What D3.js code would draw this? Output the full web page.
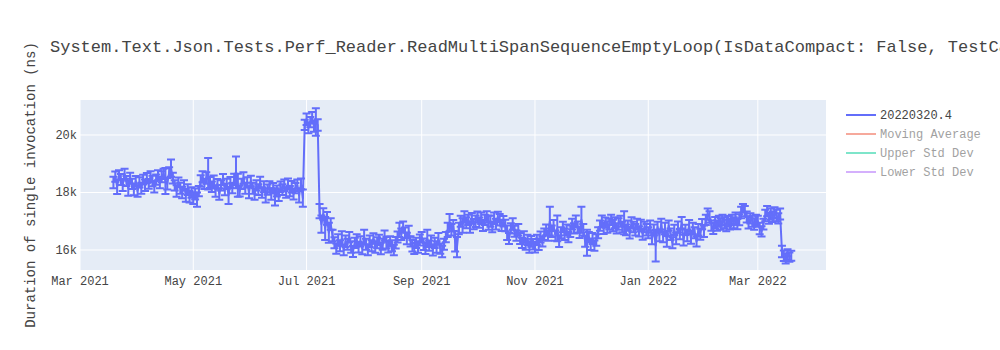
<!DOCTYPE html>
<html>
<head>
<meta charset="utf-8">
<script src="https://cdn.jsdelivr.net/npm/d3@7"></script>
<style>
  body { margin: 0; background: #fff; }
  svg text { font-family: "Liberation Mono", "Courier New", monospace; fill: #444; }
</style>
</head>
<body>
<svg id="chart" width="1000" height="350"></svg>
<script>
const dates = [
  "2021-03-19","2021-03-20","2021-03-21","2021-03-22","2021-03-23","2021-03-24","2021-03-25","2021-03-26","2021-03-27","2021-03-28","2021-03-29","2021-03-30","2021-03-31",
  "2021-04-01","2021-04-02","2021-04-03","2021-04-04","2021-04-05","2021-04-06","2021-04-07","2021-04-08","2021-04-09","2021-04-10",
  "2021-04-11","2021-04-12","2021-04-13","2021-04-14","2021-04-15","2021-04-16","2021-04-17","2021-04-18","2021-04-19","2021-04-20",
  "2021-04-21","2021-04-22","2021-04-23","2021-04-24","2021-04-25","2021-04-26","2021-04-27","2021-04-28","2021-04-29","2021-04-30",
  "2021-05-01","2021-05-02","2021-05-03","2021-05-04","2021-05-05","2021-05-06","2021-05-07","2021-05-08","2021-05-09","2021-05-10",
  "2021-05-11","2021-05-12","2021-05-13","2021-05-14","2021-05-15","2021-05-16","2021-05-17","2021-05-18","2021-05-19","2021-05-20",
  "2021-05-21","2021-05-22","2021-05-23","2021-05-24","2021-05-25","2021-05-26","2021-05-27","2021-05-28","2021-05-29","2021-05-30","2021-05-31",
  "2021-06-01","2021-06-02","2021-06-03","2021-06-04","2021-06-05","2021-06-06","2021-06-07","2021-06-08","2021-06-09","2021-06-10",
  "2021-06-11","2021-06-12","2021-06-13","2021-06-14","2021-06-15","2021-06-16","2021-06-17","2021-06-18","2021-06-19","2021-06-20",
  "2021-06-21","2021-06-22","2021-06-23","2021-06-24","2021-06-25","2021-06-26","2021-06-27","2021-06-28","2021-06-29",
  "2021-06-30","2021-07-01","2021-07-02","2021-07-03","2021-07-04","2021-07-05","2021-07-06","2021-07-07",
  "2021-07-08","2021-07-09","2021-07-10","2021-07-11","2021-07-12","2021-07-13","2021-07-14",
  "2021-07-15","2021-07-16","2021-07-17","2021-07-18","2021-07-19","2021-07-20","2021-07-21","2021-07-22","2021-07-23","2021-07-24","2021-07-25","2021-07-26","2021-07-27","2021-07-28","2021-07-29","2021-07-30","2021-07-31",
  "2021-08-01","2021-08-02","2021-08-03","2021-08-04","2021-08-05","2021-08-06","2021-08-07","2021-08-08","2021-08-09","2021-08-10","2021-08-11","2021-08-12","2021-08-13","2021-08-14","2021-08-15",
  "2021-08-16","2021-08-17","2021-08-18","2021-08-19","2021-08-20","2021-08-21","2021-08-22","2021-08-23","2021-08-24","2021-08-25","2021-08-26","2021-08-27","2021-08-28","2021-08-29","2021-08-30","2021-08-31",
  "2021-09-01","2021-09-02","2021-09-03","2021-09-04","2021-09-05","2021-09-06","2021-09-07","2021-09-08","2021-09-09","2021-09-10","2021-09-11","2021-09-12","2021-09-13","2021-09-14","2021-09-15",
  "2021-09-16","2021-09-17","2021-09-18","2021-09-19","2021-09-20","2021-09-21","2021-09-22","2021-09-23","2021-09-24","2021-09-25","2021-09-26","2021-09-27","2021-09-28","2021-09-29","2021-09-30",
  "2021-10-01","2021-10-02","2021-10-03","2021-10-04","2021-10-05","2021-10-06","2021-10-07","2021-10-08","2021-10-09","2021-10-10","2021-10-11","2021-10-12","2021-10-13","2021-10-14","2021-10-15",
  "2021-10-16","2021-10-17","2021-10-18","2021-10-19","2021-10-20","2021-10-21","2021-10-22","2021-10-23","2021-10-24","2021-10-25","2021-10-26","2021-10-27","2021-10-28","2021-10-29","2021-10-30","2021-10-31",
  "2021-11-01","2021-11-02","2021-11-03","2021-11-04","2021-11-05","2021-11-06","2021-11-07","2021-11-08","2021-11-09","2021-11-10","2021-11-11","2021-11-12","2021-11-13","2021-11-14","2021-11-15",
  "2021-11-16","2021-11-17","2021-11-18","2021-11-19","2021-11-20","2021-11-21","2021-11-22","2021-11-23","2021-11-24","2021-11-25","2021-11-26","2021-11-27","2021-11-28","2021-11-29","2021-11-30",
  "2021-12-01","2021-12-02","2021-12-03","2021-12-04","2021-12-05","2021-12-06","2021-12-07","2021-12-08","2021-12-09","2021-12-10","2021-12-11","2021-12-12","2021-12-13","2021-12-14","2021-12-15",
  "2021-12-16","2021-12-17","2021-12-18","2021-12-19","2021-12-20","2021-12-21","2021-12-22","2021-12-23","2021-12-24","2021-12-25","2021-12-26","2021-12-27","2021-12-28","2021-12-29","2021-12-30","2021-12-31",
  "2022-01-01","2022-01-02","2022-01-03","2022-01-04","2022-01-05","2022-01-06","2022-01-07","2022-01-08","2022-01-09","2022-01-10","2022-01-11","2022-01-12","2022-01-13","2022-01-14","2022-01-15",
  "2022-01-16","2022-01-17","2022-01-18","2022-01-19","2022-01-20","2022-01-21","2022-01-22","2022-01-23","2022-01-24","2022-01-25","2022-01-26","2022-01-27","2022-01-28","2022-01-29","2022-01-30","2022-01-31",
  "2022-02-01","2022-02-02","2022-02-03","2022-02-04","2022-02-05","2022-02-06","2022-02-07","2022-02-08","2022-02-09","2022-02-10","2022-02-11","2022-02-12","2022-02-13","2022-02-14",
  "2022-02-15","2022-02-16","2022-02-17","2022-02-18","2022-02-19","2022-02-20","2022-02-21","2022-02-22","2022-02-23","2022-02-24","2022-02-25","2022-02-26","2022-02-27","2022-02-28",
  "2022-03-01","2022-03-02","2022-03-03","2022-03-04","2022-03-05","2022-03-06","2022-03-07","2022-03-08","2022-03-09","2022-03-10","2022-03-11","2022-03-12",
  "2022-03-13","2022-03-14","2022-03-15","2022-03-16","2022-03-17","2022-03-18","2022-03-19"
];
const durations = [
  18350,18550,18200,18600,18450,18250,18650,18400,18150,18500,18300,18100,18400,
  18050,18350,18150,18450,18250,18500,18300,18550,18400,18200,
  18450,18600,18350,18550,18650,18400,18300,18700,18850,18500,
  18250,18050,18350,18150,18000,18250,17900,18100,17850,18000,
  17800,17950,17750,18050,18400,18550,18300,18500,18650,18350,
  18200,18400,18050,18300,17950,18250,18450,18100,18300,17900,
  18350,18150,18450,18700,18250,18050,18300,18500,18150,18350,18000,
  18400,18150,17950,18250,18100,18350,18000,18200,17900,18100,
  18200,17950,18150,17850,18050,17900,18200,18100,18250,18000,
  18300,18050,18200,17950,18150,18250,17900,18300,17800,
  20350,20550,20250,20450,20600,20300,20450,20350,
  17350,16900,17250,16750,17100,16600,16900,
  16500,16250,16050,16350,16150,16400,16000,16300,16200,16450,16100,15950,16250,16350,16100,16300,16050,
  16450,16200,16000,16300,16150,16400,16100,16250,16350,16050,16200,16500,16250,16100,16300,
  16150,16000,16250,16450,16700,16550,16800,16600,16400,16650,16300,16150,16050,16250,16100,16350,
  16450,16200,16050,16400,16150,16300,16000,16250,16100,16400,16050,15950,16200,16450,16700,
  16950,16700,16850,16300,16100,16750,17000,16850,17150,16950,17050,16800,17100,16900,17000,
  17150,16950,17100,16850,17050,17150,16950,17000,16800,17100,16900,17150,17050,16850,17000,
  16850,16600,16400,16750,16900,16650,16500,16700,16400,16250,16450,16200,16350,16100,16300,16200,
  16100,16350,16200,16450,16300,16550,16700,16500,17000,16650,16850,16500,16750,16300,16600,
  16800,16550,16700,16450,16650,16900,16750,17000,16800,16600,17050,16700,16300,16250,16450,
  16200,16400,16150,16350,16600,16850,17000,16750,16950,16800,16900,17050,16850,16950,16750,
  16900,17000,16800,16950,16700,16850,16600,16950,16800,16700,16900,16650,16850,16550,16800,16700,
  16600,16850,16400,16700,16150,16800,16500,16900,16450,16750,16300,16850,16550,16250,16700,
  16400,16800,16550,16950,16350,16700,16500,16850,16400,16750,16600,16300,16700,16550,16900,16650,
  17050,17250,17150,16850,16750,16950,16850,17000,16900,17050,16950,16850,17000,16900,
  17050,16950,17100,16900,17050,17300,17450,17350,17150,16950,17100,17000,16900,17050,
  17000,16750,16650,16900,17200,17350,17100,17250,17150,17300,17200,17100,
  17250,15950,15800,15700,15850,15750,15800
];
const errors = [
  200,180,250,170,190,200,180,170,260,190,180,200,170,
  200,180,190,170,200,180,170,190,180,200,
  180,170,200,190,180,450,200,180,300,190,
  180,200,170,190,200,180,220,190,200,180,
  200,190,250,180,200,190,180,200,550,190,
  180,190,200,170,200,180,190,200,180,300,
  190,180,200,550,400,190,180,200,190,180,200,
  180,190,200,180,190,200,180,190,250,180,
  190,200,180,300,190,200,180,190,200,180,
  190,180,200,190,180,200,250,190,300,
  180,200,190,180,200,190,480,200,
  250,300,200,400,220,350,200,
  200,190,180,200,190,250,180,200,190,180,200,190,180,200,190,180,200,
  250,190,180,200,190,180,200,190,180,200,190,180,200,190,180,
  190,180,200,190,250,200,190,180,200,190,180,200,190,180,200,190,
  180,200,190,300,180,200,190,180,200,190,180,200,190,180,250,
  300,200,190,350,350,200,190,250,200,190,180,200,190,180,200,
  190,180,200,190,180,200,250,190,180,200,190,180,200,190,180,
  200,250,190,180,200,190,180,200,190,180,200,190,180,200,190,180,
  190,180,200,190,180,200,190,180,500,200,190,180,450,200,190,
  180,200,190,180,200,190,180,200,190,180,450,200,190,450,180,
  200,190,180,200,190,180,200,190,180,200,190,180,200,190,180,
  200,190,180,400,190,180,200,190,180,200,190,180,200,190,180,200,
  190,180,200,190,550,180,200,190,180,200,190,180,200,190,180,
  200,190,180,200,190,180,200,190,180,200,190,180,200,190,180,200,
  180,190,200,180,190,200,180,190,200,180,190,200,180,190,
  180,190,200,180,190,200,150,180,190,200,180,190,200,180,
  190,200,180,190,200,180,190,200,180,190,200,180,
  190,200,180,170,180,160,170
];
const legendNames = ["20220320.4", "Moving Average", "Upper Std Dev", "Lower Std Dev"];
const legendColors = ["#636efa", "#EF553B", "#00cc96", "#ab63fa"];
const yTicks = [16000, 18000, 20000];

const title = "System.Text.Json.Tests.Perf_Reader.ReadMultiSpanSequenceEmptyLoop(IsDataCompact: False, TestCase: Json40KB)";

const svg = d3.select("#chart");
const m = {left: 80, right: 826, top: 100, bottom: 270};
const parse = d3.utcParse("%Y-%m-%d");
const n = Math.min(dates.length, durations.length, errors.length);
const pts = dates.slice(0, n).map((d, i) => ({t: parse(d), v: durations[i], e: errors[i]}));

const x = d3.scaleUtc()
  .domain([Date.UTC(2021, 2, 1), Date.UTC(2022, 3, 6, 17)])
  .range([m.left, m.right]);
const y = d3.scaleLinear().domain([15304, 21217]).range([m.bottom, m.top]);

svg.append("rect")
  .attr("x", m.left).attr("y", m.top)
  .attr("width", m.right - m.left).attr("height", m.bottom - m.top)
  .attr("fill", "#E5ECF6");

const xTicks = x.ticks(d3.utcMonth.every(2));

// grid
svg.append("g").selectAll("line").data(xTicks).enter().append("line")
  .attr("x1", d => x(d)).attr("x2", d => x(d))
  .attr("y1", m.top).attr("y2", m.bottom)
  .attr("stroke", "#fff").attr("stroke-width", 1);
svg.append("g").selectAll("line").data(yTicks).enter().append("line")
  .attr("x1", m.left).attr("x2", m.right)
  .attr("y1", d => y(d)).attr("y2", d => y(d))
  .attr("stroke", "#fff").attr("stroke-width", 1);

// tick labels
svg.append("g").selectAll("text").data(xTicks).enter().append("text")
  .attr("x", d => x(d)).attr("y", 285)
  .attr("text-anchor", "middle").attr("font-size", 12)
  .text(d => d3.utcFormat("%b %Y")(d));
svg.append("g").selectAll("text").data(yTicks).enter().append("text")
  .attr("x", 77).attr("y", d => y(d) + 4)
  .attr("text-anchor", "end").attr("font-size", 12)
  .text(d => d3.format("~s")(d));

// error bars
const eb = svg.append("g").attr("stroke", "#636efa").attr("stroke-width", 2);
eb.selectAll("path").data(pts).enter().append("path")
  .attr("fill", "none")
  .attr("d", d => {
    const cx = x(d.t), y0 = y(d.v - d.e), y1 = y(d.v + d.e);
    return `M${cx - 4},${y0}H${cx + 4}M${cx},${y0}V${y1}M${cx - 4},${y1}H${cx + 4}`;
  });

// line
svg.append("path").datum(pts)
  .attr("fill", "none").attr("stroke", "#636efa").attr("stroke-width", 2)
  .attr("stroke-linejoin", "round")
  .attr("d", d3.line().x(d => x(d.t)).y(d => y(d.v)));

// title
svg.append("text").attr("x", 50).attr("y", 52)
  .attr("font-size", 17).text(title);

// y axis title
svg.append("text")
  .attr("transform", `translate(35,${(m.top + m.bottom) / 2}) rotate(-90)`)
  .attr("text-anchor", "middle").attr("font-size", 14)
  .text("Duration of single invocation (ns)");

// legend
const lg = svg.append("g").selectAll("g").data(legendNames).enter().append("g")
  .attr("transform", (d, i) => `translate(846,${115 + i * 19})`)
  .attr("opacity", (d, i) => i === 0 ? 1 : 0.5);
lg.append("line").attr("x1", 0).attr("x2", 30).attr("y1", 0).attr("y2", 0)
  .attr("stroke", (d, i) => legendColors[i]).attr("stroke-width", 2);
lg.append("text").attr("x", 34).attr("y", 4).attr("font-size", 12).text(d => d);
</script>
</body>
</html>
